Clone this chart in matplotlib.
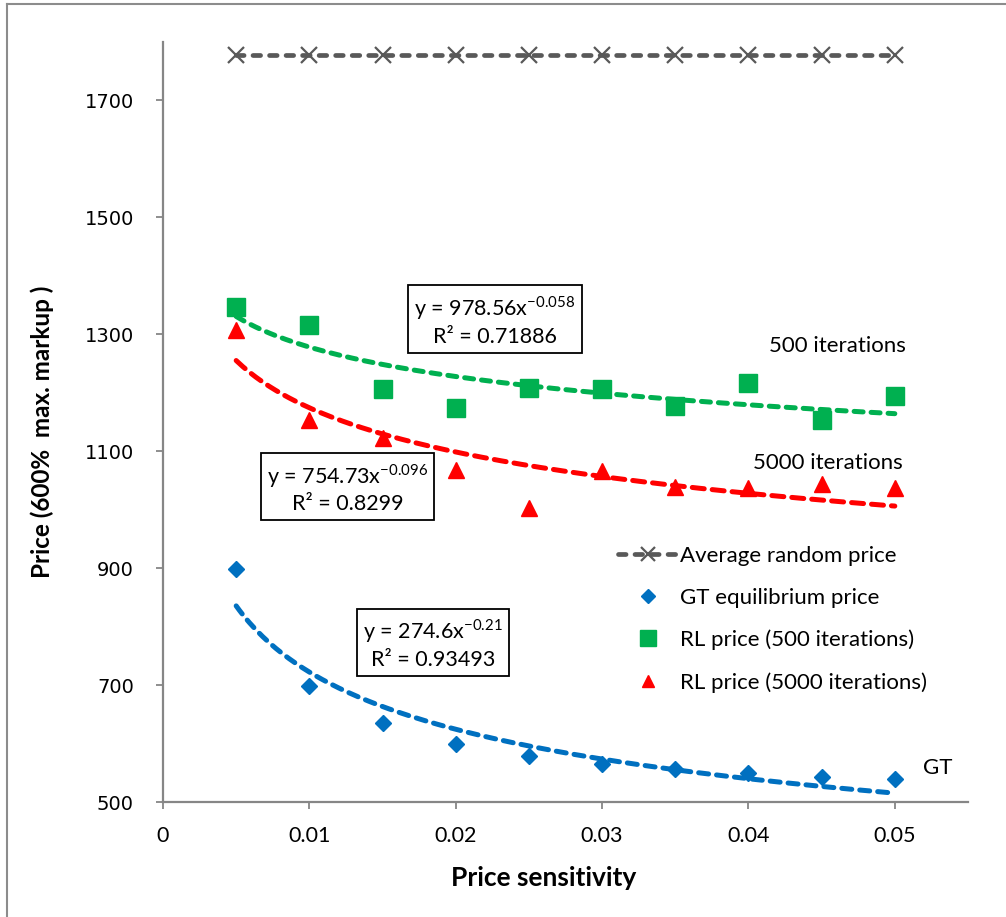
import numpy as np
import matplotlib
matplotlib.use("Agg")
import matplotlib.pyplot as plt
from matplotlib.lines import Line2D
from matplotlib import ticker

plt.rcParams['font.family'] = ['Lato', 'DejaVu Sans']
plt.rcParams['mathtext.fontset'] = 'custom'
plt.rcParams['mathtext.rm'] = 'Lato'

# Данные
sensitivity = [0.005, 0.01, 0.015, 0.02, 0.025, 0.03, 0.035, 0.04, 0.045, 0.05]
random_price = [1778, 1778, 1778, 1778, 1778, 1778, 1778, 1778, 1778, 1778]
gt_price = [898, 698, 635, 599, 578, 565, 557, 550, 543, 540]
rl500_price = [1346, 1316, 1206, 1174, 1208, 1207, 1177, 1217, 1154, 1195]
rl5000_price = [1307, 1154, 1123, 1068, 1003, 1067, 1039, 1037, 1044, 1037]

# Степенные тренды y = a * x^b (из подписей)
trend_gt = (274.6, -0.21, 0.93493)
trend_500 = (978.56, -0.058, 0.71886)
trend_5000 = (754.73, -0.096, 0.8299)

GRAY = '#595959'
BLUE = '#0070C0'
GREEN = '#00B050'
RED = '#FF0000'
AXIS = '#868686'

W, H = 1006, 917
fig = plt.figure(figsize=(W / 100, H / 100), dpi=100)
ax = fig.add_axes([163 / W, 1 - 802 / H, (968 - 163) / W, (802 - 42) / H])

# Рамка вокруг области диаграммы
fig.add_artist(Line2D([7 / W, 7 / W], [0, 1 - 4 / H], color='#8c8c8c', lw=1.5))
fig.add_artist(Line2D([7 / W, 1], [1 - 4 / H, 1 - 4 / H], color='#8c8c8c', lw=1.5))


def trend_line(coef, color, dashes):
    a, b, _ = coef
    xs = np.linspace(min(sensitivity), max(sensitivity), 200)
    ax.plot(xs, a * xs ** b, color=color, lw=3.6, dashes=dashes,
            dash_capstyle='round', solid_capstyle='round', zorder=2)


trend_line(trend_500, GREEN, (1.8, 1.6))
trend_line(trend_5000, RED, (2.4, 1.6))
trend_line(trend_gt, BLUE, (2.0, 1.6))

l_rand, = ax.plot(sensitivity, random_price, color=GRAY, lw=3.4, dashes=(1.6, 1.9),
                  dash_capstyle='round', marker='x', markersize=12, markeredgewidth=1.6,
                  markeredgecolor=GRAY, label='Average random price', zorder=3)
l_gt, = ax.plot(sensitivity, gt_price, linestyle='none', marker='D', markersize=8.5,
                color=BLUE, label='GT equilibrium price', zorder=4)
l_500, = ax.plot(sensitivity, rl500_price, linestyle='none', marker='s', markersize=13.5,
                 color=GREEN, label='RL price (500 iterations)', zorder=4)
l_5000, = ax.plot(sensitivity, rl5000_price, linestyle='none', marker='^', markersize=11,
                  color=RED, label='RL price (5000 iterations)', zorder=4)

ax.set_xlim(0, 0.055)
ax.set_ylim(500, 1800)
ax.set_xticks([0, 0.01, 0.02, 0.03, 0.04, 0.05])
ax.set_yticks([500, 700, 900, 1100, 1300, 1500, 1700])
ax.xaxis.set_major_formatter(ticker.FuncFormatter(lambda v, p: '%g' % v))

for s in ['top', 'right']:
    ax.spines[s].set_visible(False)
for s in ['left', 'bottom']:
    ax.spines[s].set_color(AXIS)
    ax.spines[s].set_linewidth(1.6)

ax.tick_params(axis='both', direction='out', length=5, width=1.3, color=AXIS)
ax.tick_params(axis='x', pad=12, labelsize=15.5)
ax.tick_params(axis='y', pad=16, labelsize=14)
for lab in ax.get_yticklabels():
    lab.set_family('DejaVu Sans')

# Подписи осей
fig.text(544 / W, 1 - 878 / H, 'Price sensitivity', ha='center', va='center',
         fontsize=19, fontweight='bold')
fig.text(42 / W, 1 - 432 / H, 'Price (600%  max. markup )', ha='center', va='center',
         rotation=90, fontsize=17.5, fontweight='bold')

# Уравнения трендов
box = dict(boxstyle='square,pad=0.28', facecolor='white', edgecolor='black', linewidth=1.3)


def trend_label(coef, x, y):
    a, b, r2 = coef
    txt = 'y = %gx$^{\\mathrm{%g}}$\nR² = %g' % (a, b, r2)
    ax.text(x, y, txt, ha='center', va='center', fontsize=15.5, bbox=box,
            linespacing=1.3, zorder=5)


trend_label(trend_500, 0.02268, 1324)
trend_label(trend_5000, 0.0126, 1037)
trend_label(trend_gt, 0.01846, 771)

ax.text(0.04605, 1280, '500 iterations', ha='center', va='center', fontsize=16)
ax.text(0.04544, 1080, '5000 iterations', ha='center', va='center', fontsize=16)
ax.text(0.0529, 558, 'GT', ha='center', va='center', fontsize=16)

fig.legend(handles=[l_rand, l_gt, l_500, l_5000], loc='upper left',
           bbox_to_anchor=(618 / W, 1 - 546 / H), frameon=False, fontsize=16,
           handlelength=2.7, handletextpad=0.1, borderpad=0, borderaxespad=0,
           labelspacing=0.98, markerscale=0.85, numpoints=1)

fig.savefig('out.png', dpi=100)
